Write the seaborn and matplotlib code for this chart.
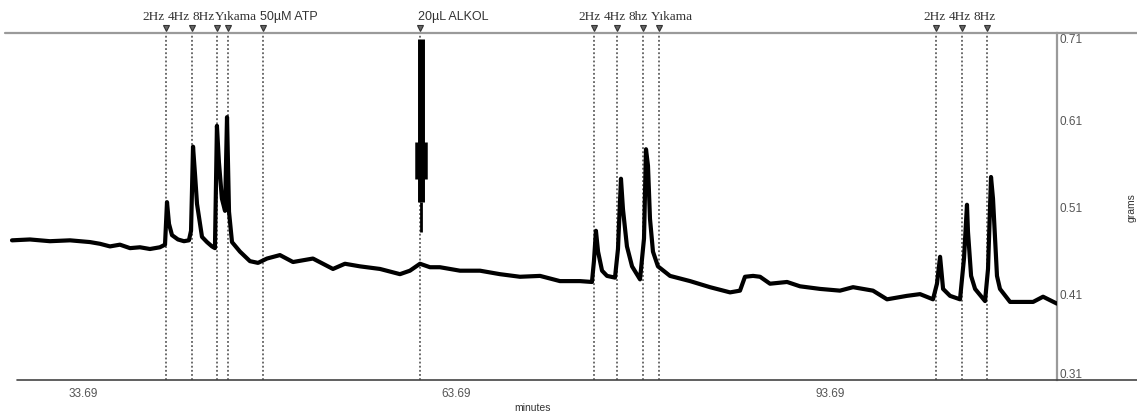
import matplotlib
matplotlib.use("Agg")
import matplotlib.pyplot as plt
import matplotlib.transforms as mtransforms
from matplotlib.lines import Line2D
import pandas as pd
import seaborn as sns

# ---------------- data ----------------
minutes = [27.99, 29.43, 31.04, 32.65, 34.25, 35.06, 35.86, 36.66, 37.47, 38.27,
           39.07, 39.87, 40.28, 40.44, 40.60, 40.84, 41.32, 41.80, 42.20, 42.37,
           42.53, 42.69, 42.85, 43.25, 43.65, 44.05, 44.29, 44.45, 44.61, 44.85,
           45.10, 45.26, 45.42, 45.66, 46.30, 47.10, 47.75, 48.47, 49.51, 50.56,
           52.16, 53.77, 54.73, 55.94, 57.55, 59.15, 59.95, 60.76, 61.56, 62.36,
           63.97, 65.58, 67.18, 68.79, 70.40, 72.00, 73.61, 74.57, 74.73, 74.89,
           75.06, 75.38, 75.78, 76.42, 76.66, 76.90, 77.06, 77.38, 77.79, 78.43,
           78.75, 78.91, 79.07, 79.23, 79.47, 79.87, 80.84, 82.45, 84.05, 85.66,
           86.46, 86.86, 87.51, 88.07, 88.87, 90.24, 91.28, 92.89, 94.49, 95.54,
           97.14, 98.27, 99.87, 100.92, 101.96, 102.28, 102.53, 102.77, 103.33, 104.13,
           104.45, 104.69, 104.77, 105.02, 105.34, 106.14, 106.38, 106.62, 106.78, 107.10,
           107.34, 108.15, 108.71, 110.00, 110.80, 111.92]
grams = [0.471, 0.472, 0.470, 0.471, 0.469, 0.467, 0.464, 0.466, 0.462, 0.463,
         0.461, 0.463, 0.466, 0.515, 0.490, 0.477, 0.472, 0.470, 0.471, 0.482,
         0.579, 0.547, 0.513, 0.475, 0.469, 0.464, 0.462, 0.603, 0.561, 0.519,
         0.505, 0.613, 0.504, 0.469, 0.458, 0.447, 0.445, 0.450, 0.454, 0.446,
         0.450, 0.438, 0.444, 0.441, 0.438, 0.432, 0.436, 0.444, 0.440, 0.440,
         0.436, 0.436, 0.432, 0.429, 0.430, 0.424, 0.424, 0.423, 0.447, 0.482,
         0.458, 0.436, 0.430, 0.428, 0.461, 0.542, 0.507, 0.464, 0.441, 0.426,
         0.473, 0.576, 0.557, 0.496, 0.458, 0.441, 0.430, 0.424, 0.417, 0.411,
         0.413, 0.429, 0.430, 0.429, 0.421, 0.423, 0.418, 0.415, 0.413, 0.417,
         0.413, 0.403, 0.407, 0.409, 0.403, 0.421, 0.452, 0.415, 0.407, 0.403,
         0.450, 0.512, 0.481, 0.430, 0.415, 0.401, 0.438, 0.544, 0.519, 0.430,
         0.415, 0.400, 0.400, 0.400, 0.406, 0.398]

event_minutes = [40.36, 42.45, 44.45, 45.30, 48.15, 60.76,
                 74.73, 76.58, 78.67, 79.96, 102.20, 104.29, 106.30]
event_labels = ["2Hz", "4Hz", "8Hz", "Yıkama", "50µM ATP", "20µL ALKOL",
                "2Hz", "4Hz", "8hz", "Yıkama", "2Hz", "4Hz", "8Hz"]

# ALKOL injection artefact (envelope of the saturated signal)
alkol_minute = 60.80
alkol_low = [0.515, 0.542, 0.481]
alkol_high = [0.703, 0.584, 0.515]

x_ticks = [33.69, 63.69, 93.69]
y_ticks = [0.31, 0.41, 0.51, 0.61, 0.71]

# ---------------- layout / style ----------------
label_left_minutes = [38.43, 40.46, 42.49, 44.26, 47.91, 60.60,
                      73.45, 75.48, 77.51, 79.31, 101.16, 103.19, 105.22]
alkol_widths = [5.0, 9.0, 2.0]
sans_labels = {"50µM ATP", "20µL ALKOL"}

sns.set_theme(style="white")
plt.rcParams["font.family"] = ["Liberation Sans", "DejaVu Sans"]

W, H = 1137, 414
fig = plt.figure(figsize=(W / 100, H / 100), dpi=100)
fig.patch.set_facecolor("white")
ax_left, ax_right, ax_top, ax_bot = 9, 1057, 34, 381
ax = fig.add_axes([ax_left / W, 1 - ax_bot / H, (ax_right - ax_left) / W, (ax_bot - ax_top) / H])
ax.set_facecolor("white")

# event dotted lines
for t in event_minutes:
    ax.axvline(t, color="#444444", lw=1.1, ls=(0, (1.2, 1.5)), zorder=1)

# trace
df = pd.DataFrame({"minutes": minutes, "grams": grams})
sns.lineplot(data=df, x="minutes", y="grams", ax=ax, color="black", lw=3.0,
             sort=False, estimator=None, zorder=3)
ax.lines[-1].set_solid_joinstyle("round")

# ALKOL artefact
for lo, hi, w in zip(alkol_low, alkol_high, alkol_widths):
    ax.vlines(alkol_minute, lo, hi, colors="black", lw=w, zorder=4)

ax.set_xlim(27.75, 111.92)
ax.set_ylim(0.31, 0.71)

# event markers & labels
trans = mtransforms.blended_transform_factory(ax.transData, ax.transAxes)
ax.plot(event_minutes, [1.014] * len(event_minutes), ls="none", marker="v", ms=4.5,
        mfc="#666666", mec="#333333", mew=0.8, transform=trans, clip_on=False, zorder=5)
for lx, lab in zip(label_left_minutes, event_labels):
    if lab in sans_labels:
        fam, fs = ["Liberation Sans", "DejaVu Sans"], 9.0
    else:
        fam, fs = ["Liberation Serif", "DejaVu Serif"], 9.5
    ax.text(lx, 1.049, lab, transform=trans, ha="left", va="center",
            fontsize=fs, family=fam, color="#333333", clip_on=False)

# axes styling
for s in ["left", "top", "bottom"]:
    ax.spines[s].set_visible(False)
ax.spines["right"].set_color("#9a9a9a")
ax.spines["right"].set_linewidth(1.6)

ax.set_xticks(x_ticks)
ax.set_xticklabels([f"{v:.2f}" for v in x_ticks])
ax.tick_params(axis="x", length=0, pad=5, labelsize=8.5, labelcolor="#555555")
ax.yaxis.tick_right()
ax.set_yticks(y_ticks)
ax.set_yticklabels([f"{v:.2f}" for v in y_ticks])
ax.tick_params(axis="y", length=0, pad=2, labelsize=8.5, labelcolor="#555555")
ylabs = ax.get_yticklabels()
ylabs[0].set_va("bottom")
ylabs[-1].set_va("top")

ax.set_xlabel("minutes", fontsize=7.5, color="#333333")
ax.xaxis.set_label_coords(0.5, -0.064)
ax.yaxis.set_label_position("right")
ax.set_ylabel("grams", fontsize=7.5, color="#333333", rotation=90)
ax.yaxis.set_label_coords((1127 - ax_left) / (ax_right - ax_left), 0.5)
ax.grid(False)

# long horizontal frame lines extending beyond the plot
fig.add_artist(Line2D([5 / W, 1.0], [1 - ax_top / H] * 2, color="#9a9a9a", lw=1.6))
fig.add_artist(Line2D([17 / W, 1.0], [1 - ax_bot / H] * 2, color="#444444", lw=1.2))

fig.savefig("out.png", dpi=100, facecolor="white")
